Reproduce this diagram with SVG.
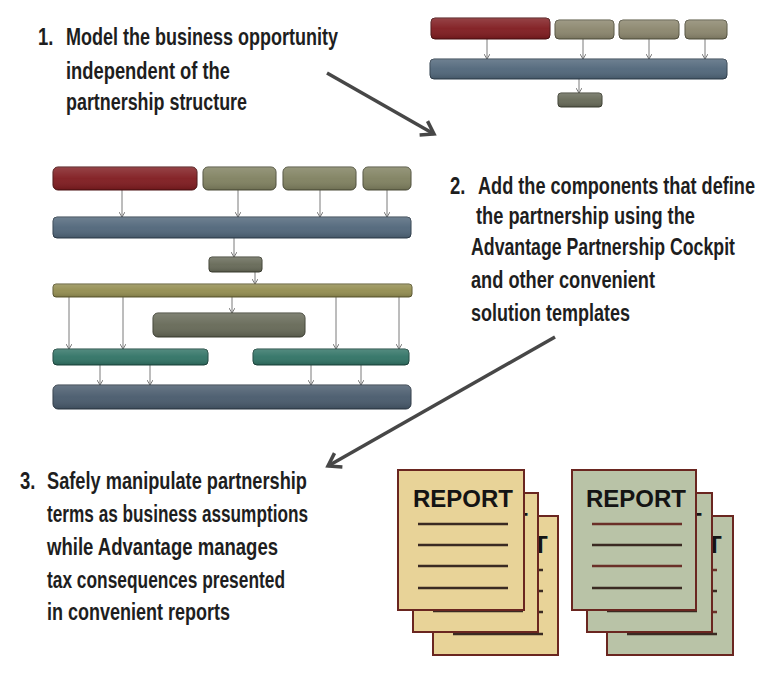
<svg xmlns="http://www.w3.org/2000/svg" width="766" height="677" viewBox="0 0 766 677">
<style>
  .t { font-family: "Liberation Sans", Arial, sans-serif; font-size: 18.5px; fill: #1e1e1e; font-weight: bold; }
  .bar { stroke-width: 1; }
  .red { fill: #7f1a1e; stroke: #4a0f10; }
  .tan { fill: #8a856c; stroke: #55523f; }
  .tang { fill: #7f805f; stroke: #4c4d38; }
  .blue { fill: #4f6579; stroke: #2f3e4c; }
  .dark { fill: #656856; stroke: #3c3e31; }
  .olive { fill: #928c4f; stroke: #5c5830; }
  .teal { fill: #2f7264; stroke: #1b453c; }
  .navy { fill: #47596b; stroke: #2a3642; }
  .shine { fill: url(#shine); stroke: none; }
  .conn { stroke: #7a7a7a; stroke-width: 1; fill: none; marker-end: url(#sm); }
  .big { stroke: #474747; stroke-width: 3.5; fill: none; marker-end: url(#bigh); }
  .sheetA { fill: #e8d398; stroke: #6a2620; stroke-width: 2; }
  .sheetB { fill: #b9c3a7; stroke: #6a2620; stroke-width: 2; }
  .rep { font-family: "Liberation Sans", Arial, sans-serif; font-size: 24px; font-weight: bold; fill: #141414; }
  .rl { stroke: #3a2a22; stroke-width: 2.5; }
  .rlr { stroke: #6a3028; stroke-width: 2.5; }
</style>
<defs>
  <linearGradient id="shine" x1="0" y1="0" x2="0" y2="1">
    <stop offset="0" stop-color="#ffffff" stop-opacity="0.18"/>
    <stop offset="0.5" stop-color="#ffffff" stop-opacity="0.05"/>
    <stop offset="1" stop-color="#000000" stop-opacity="0.15"/>
  </linearGradient>
  <marker id="sm" markerWidth="6" markerHeight="6" refX="5" refY="3" orient="auto" markerUnits="userSpaceOnUse">
    <path d="M0,0 L5,3 L0,6" fill="none" stroke="#7a7a7a" stroke-width="1"/>
  </marker>
  <marker id="bigh" markerWidth="20" markerHeight="20" refX="16" refY="10" orient="auto" markerUnits="userSpaceOnUse">
    <path d="M4,2 L16,10 L4,18" fill="none" stroke="#474747" stroke-width="3.5" stroke-linejoin="miter"/>
  </marker>
</defs>
<rect width="766" height="677" fill="#ffffff"/>

<!-- Texts -->
<g id="step1">
  <text class="t" transform="translate(38,45) scale(1,1.25)">1.</text>
  <text class="t" transform="translate(66,45) scale(1,1.25)" textLength="272" lengthAdjust="spacingAndGlyphs">Model the business opportunity</text>
  <text class="t" transform="translate(66,79) scale(1,1.25)" textLength="164" lengthAdjust="spacingAndGlyphs">independent of the</text>
  <text class="t" transform="translate(66,110) scale(1,1.25)" textLength="181" lengthAdjust="spacingAndGlyphs">partnership structure</text>
</g>
<g id="step2">
  <text class="t" transform="translate(450,194) scale(1,1.25)">2.</text>
  <text class="t" transform="translate(478,194) scale(1,1.25)" textLength="277" lengthAdjust="spacingAndGlyphs">Add the components that define</text>
  <text class="t" transform="translate(476,224) scale(1,1.25)" textLength="219" lengthAdjust="spacingAndGlyphs">the partnership using the</text>
  <text class="t" transform="translate(471,255) scale(1,1.25)" textLength="264" lengthAdjust="spacingAndGlyphs">Advantage Partnership Cockpit</text>
  <text class="t" transform="translate(471,288) scale(1,1.25)" textLength="184" lengthAdjust="spacingAndGlyphs">and other convenient</text>
  <text class="t" transform="translate(471,321) scale(1,1.25)" textLength="159" lengthAdjust="spacingAndGlyphs">solution templates</text>
</g>
<g id="step3">
  <text class="t" transform="translate(20,489) scale(1,1.25)">3.</text>
  <text class="t" transform="translate(47,489) scale(1,1.25)" textLength="260" lengthAdjust="spacingAndGlyphs">Safely manipulate partnership</text>
  <text class="t" transform="translate(47,522) scale(1,1.25)" textLength="261" lengthAdjust="spacingAndGlyphs">terms as business assumptions</text>
  <text class="t" transform="translate(47,555) scale(1,1.25)" textLength="231" lengthAdjust="spacingAndGlyphs">while Advantage manages</text>
  <text class="t" transform="translate(47,588) scale(1,1.25)" textLength="238" lengthAdjust="spacingAndGlyphs">tax  consequences presented</text>
  <text class="t" transform="translate(47,620) scale(1,1.25)" textLength="183" lengthAdjust="spacingAndGlyphs">in convenient reports</text>
</g>

<!-- Connectors -->
<g id="connectors">
  <line class="conn" x1="487" y1="39" x2="487" y2="59"/>
  <line class="conn" x1="583" y1="39" x2="583" y2="59"/>
  <line class="conn" x1="649" y1="39" x2="649" y2="59"/>
  <line class="conn" x1="705" y1="39" x2="705" y2="59"/>
  <line class="conn" x1="579" y1="79" x2="579" y2="93"/>

  <line class="conn" x1="122" y1="190" x2="122" y2="217"/>
  <line class="conn" x1="238" y1="190" x2="238" y2="217"/>
  <line class="conn" x1="320" y1="190" x2="320" y2="217"/>
  <line class="conn" x1="387" y1="190" x2="387" y2="217"/>
  <line class="conn" x1="234" y1="238" x2="234" y2="257"/>
  <line class="conn" x1="255" y1="272" x2="255" y2="284"/>
  <line class="conn" x1="232" y1="297" x2="232" y2="313"/>
  <line class="conn" x1="69" y1="297" x2="69" y2="349"/>
  <line class="conn" x1="123" y1="297" x2="123" y2="349"/>
  <line class="conn" x1="336" y1="297" x2="336" y2="349"/>
  <line class="conn" x1="399" y1="297" x2="399" y2="349"/>
  <line class="conn" x1="100" y1="365" x2="100" y2="385"/>
  <line class="conn" x1="150" y1="365" x2="150" y2="385"/>
  <line class="conn" x1="311" y1="365" x2="311" y2="385"/>
  <line class="conn" x1="361" y1="365" x2="361" y2="385"/>

  <line class="big" x1="327" y1="73" x2="434" y2="134"/>
  <line class="big" x1="555" y1="337" x2="328" y2="466"/>
</g>

<!-- Top-right small model -->
<g id="tr-red"><rect class="bar red" x="431" y="18" width="119" height="21" rx="4"/><rect class="shine" x="431" y="18" width="119" height="21" rx="4"/></g>
<g id="tr-tan1"><rect class="bar tan" x="555" y="20" width="59" height="19" rx="4"/><rect class="shine" x="555" y="20" width="59" height="19" rx="4"/></g>
<g id="tr-tan2"><rect class="bar tan" x="619" y="20" width="60" height="19" rx="4"/><rect class="shine" x="619" y="20" width="60" height="19" rx="4"/></g>
<g id="tr-tan3"><rect class="bar tan" x="685" y="20" width="42" height="19" rx="4"/><rect class="shine" x="685" y="20" width="42" height="19" rx="4"/></g>
<g id="tr-blue"><rect class="bar blue" x="430" y="59" width="297" height="20" rx="4"/><rect class="shine" x="430" y="59" width="297" height="20" rx="4"/></g>
<g id="tr-small"><rect class="bar dark" x="558" y="93" width="44" height="14" rx="3"/><rect class="shine" x="558" y="93" width="44" height="14" rx="3"/></g>

<!-- Left big model -->
<g id="l-red"><rect class="bar red" x="53" y="167" width="144" height="23" rx="5"/><rect class="shine" x="53" y="167" width="144" height="23" rx="5"/></g>
<g id="l-tan1"><rect class="bar tang" x="203" y="167" width="73" height="23" rx="5"/><rect class="shine" x="203" y="167" width="73" height="23" rx="5"/></g>
<g id="l-tan2"><rect class="bar tang" x="283" y="167" width="73" height="23" rx="5"/><rect class="shine" x="283" y="167" width="73" height="23" rx="5"/></g>
<g id="l-tan3"><rect class="bar tang" x="363" y="167" width="48" height="23" rx="5"/><rect class="shine" x="363" y="167" width="48" height="23" rx="5"/></g>
<g id="l-blue"><rect class="bar blue" x="53" y="217" width="358" height="21" rx="4"/><rect class="shine" x="53" y="217" width="358" height="21" rx="4"/></g>
<g id="l-small"><rect class="bar dark" x="209" y="257" width="53" height="15" rx="3"/><rect class="shine" x="209" y="257" width="53" height="15" rx="3"/></g>
<g id="l-olive"><rect class="bar olive" x="53" y="284" width="359" height="13" rx="3"/><rect class="shine" x="53" y="284" width="359" height="13" rx="3"/></g>
<g id="l-mid"><rect class="bar dark" x="153" y="313" width="152" height="24" rx="5"/><rect class="shine" x="153" y="313" width="152" height="24" rx="5"/></g>
<g id="l-teal1"><rect class="bar teal" x="53" y="349" width="155" height="16" rx="4"/><rect class="shine" x="53" y="349" width="155" height="16" rx="4"/></g>
<g id="l-teal2"><rect class="bar teal" x="253" y="349" width="156" height="16" rx="4"/><rect class="shine" x="253" y="349" width="156" height="16" rx="4"/></g>
<g id="l-bottom"><rect class="bar navy" x="53" y="385" width="358" height="24" rx="5"/><rect class="shine" x="53" y="385" width="358" height="24" rx="5"/></g>

<!-- Report stack A (tan) -->
<g id="reportA">
  <g transform="translate(433,516)">
    <rect class="sheetA" x="0" y="0" width="125" height="139"/>
    <text class="rep" x="100" y="37">T</text>
    <line class="rl" x1="20" y1="54" x2="110" y2="54"/><line class="rl" x1="20" y1="75" x2="110" y2="75"/>
    <line class="rl" x1="20" y1="96" x2="110" y2="96"/><line class="rl" x1="20" y1="118" x2="110" y2="118"/>
  </g>
  <g transform="translate(413,493)">
    <rect class="sheetA" x="0" y="0" width="125" height="139"/>
    <text class="rep" x="100" y="37">T</text>
    <line class="rl" x1="20" y1="54" x2="110" y2="54"/><line class="rl" x1="20" y1="75" x2="110" y2="75"/>
    <line class="rl" x1="20" y1="96" x2="110" y2="96"/><line class="rl" x1="20" y1="118" x2="110" y2="118"/>
  </g>
  <g transform="translate(398,470)">
    <rect class="sheetA" x="0" y="0" width="126" height="140"/>
    <text class="rep" x="65" y="37" text-anchor="middle">REPORT</text>
    <line class="rl" x1="20" y1="54" x2="110" y2="54"/><line class="rl" x1="20" y1="75" x2="110" y2="75"/>
    <line class="rl" x1="20" y1="96" x2="110" y2="96"/><line class="rl" x1="20" y1="118" x2="110" y2="118"/>
  </g>
</g>

<!-- Report stack B (green) -->
<g id="reportB">
  <g transform="translate(607,516)">
    <rect class="sheetB" x="0" y="0" width="126" height="139"/>
    <text class="rep" x="100" y="37">T</text>
    <line class="rlr" x1="20" y1="54" x2="110" y2="54"/><line class="rl" x1="20" y1="75" x2="110" y2="75"/>
    <line class="rlr" x1="20" y1="96" x2="110" y2="96"/><line class="rl" x1="20" y1="118" x2="110" y2="118"/>
  </g>
  <g transform="translate(587,493)">
    <rect class="sheetB" x="0" y="0" width="125" height="139"/>
    <text class="rep" x="100" y="37">T</text>
    <line class="rlr" x1="20" y1="54" x2="110" y2="54"/><line class="rl" x1="20" y1="75" x2="110" y2="75"/>
    <line class="rlr" x1="20" y1="96" x2="110" y2="96"/><line class="rl" x1="20" y1="118" x2="110" y2="118"/>
  </g>
  <g transform="translate(572,470)">
    <rect class="sheetB" x="0" y="0" width="124" height="140"/>
    <text class="rep" x="64" y="37" text-anchor="middle">REPORT</text>
    <line class="rlr" x1="20" y1="54" x2="110" y2="54"/><line class="rl" x1="20" y1="75" x2="110" y2="75"/>
    <line class="rlr" x1="20" y1="96" x2="110" y2="96"/><line class="rl" x1="20" y1="118" x2="110" y2="118"/>
  </g>
</g>
</svg>
